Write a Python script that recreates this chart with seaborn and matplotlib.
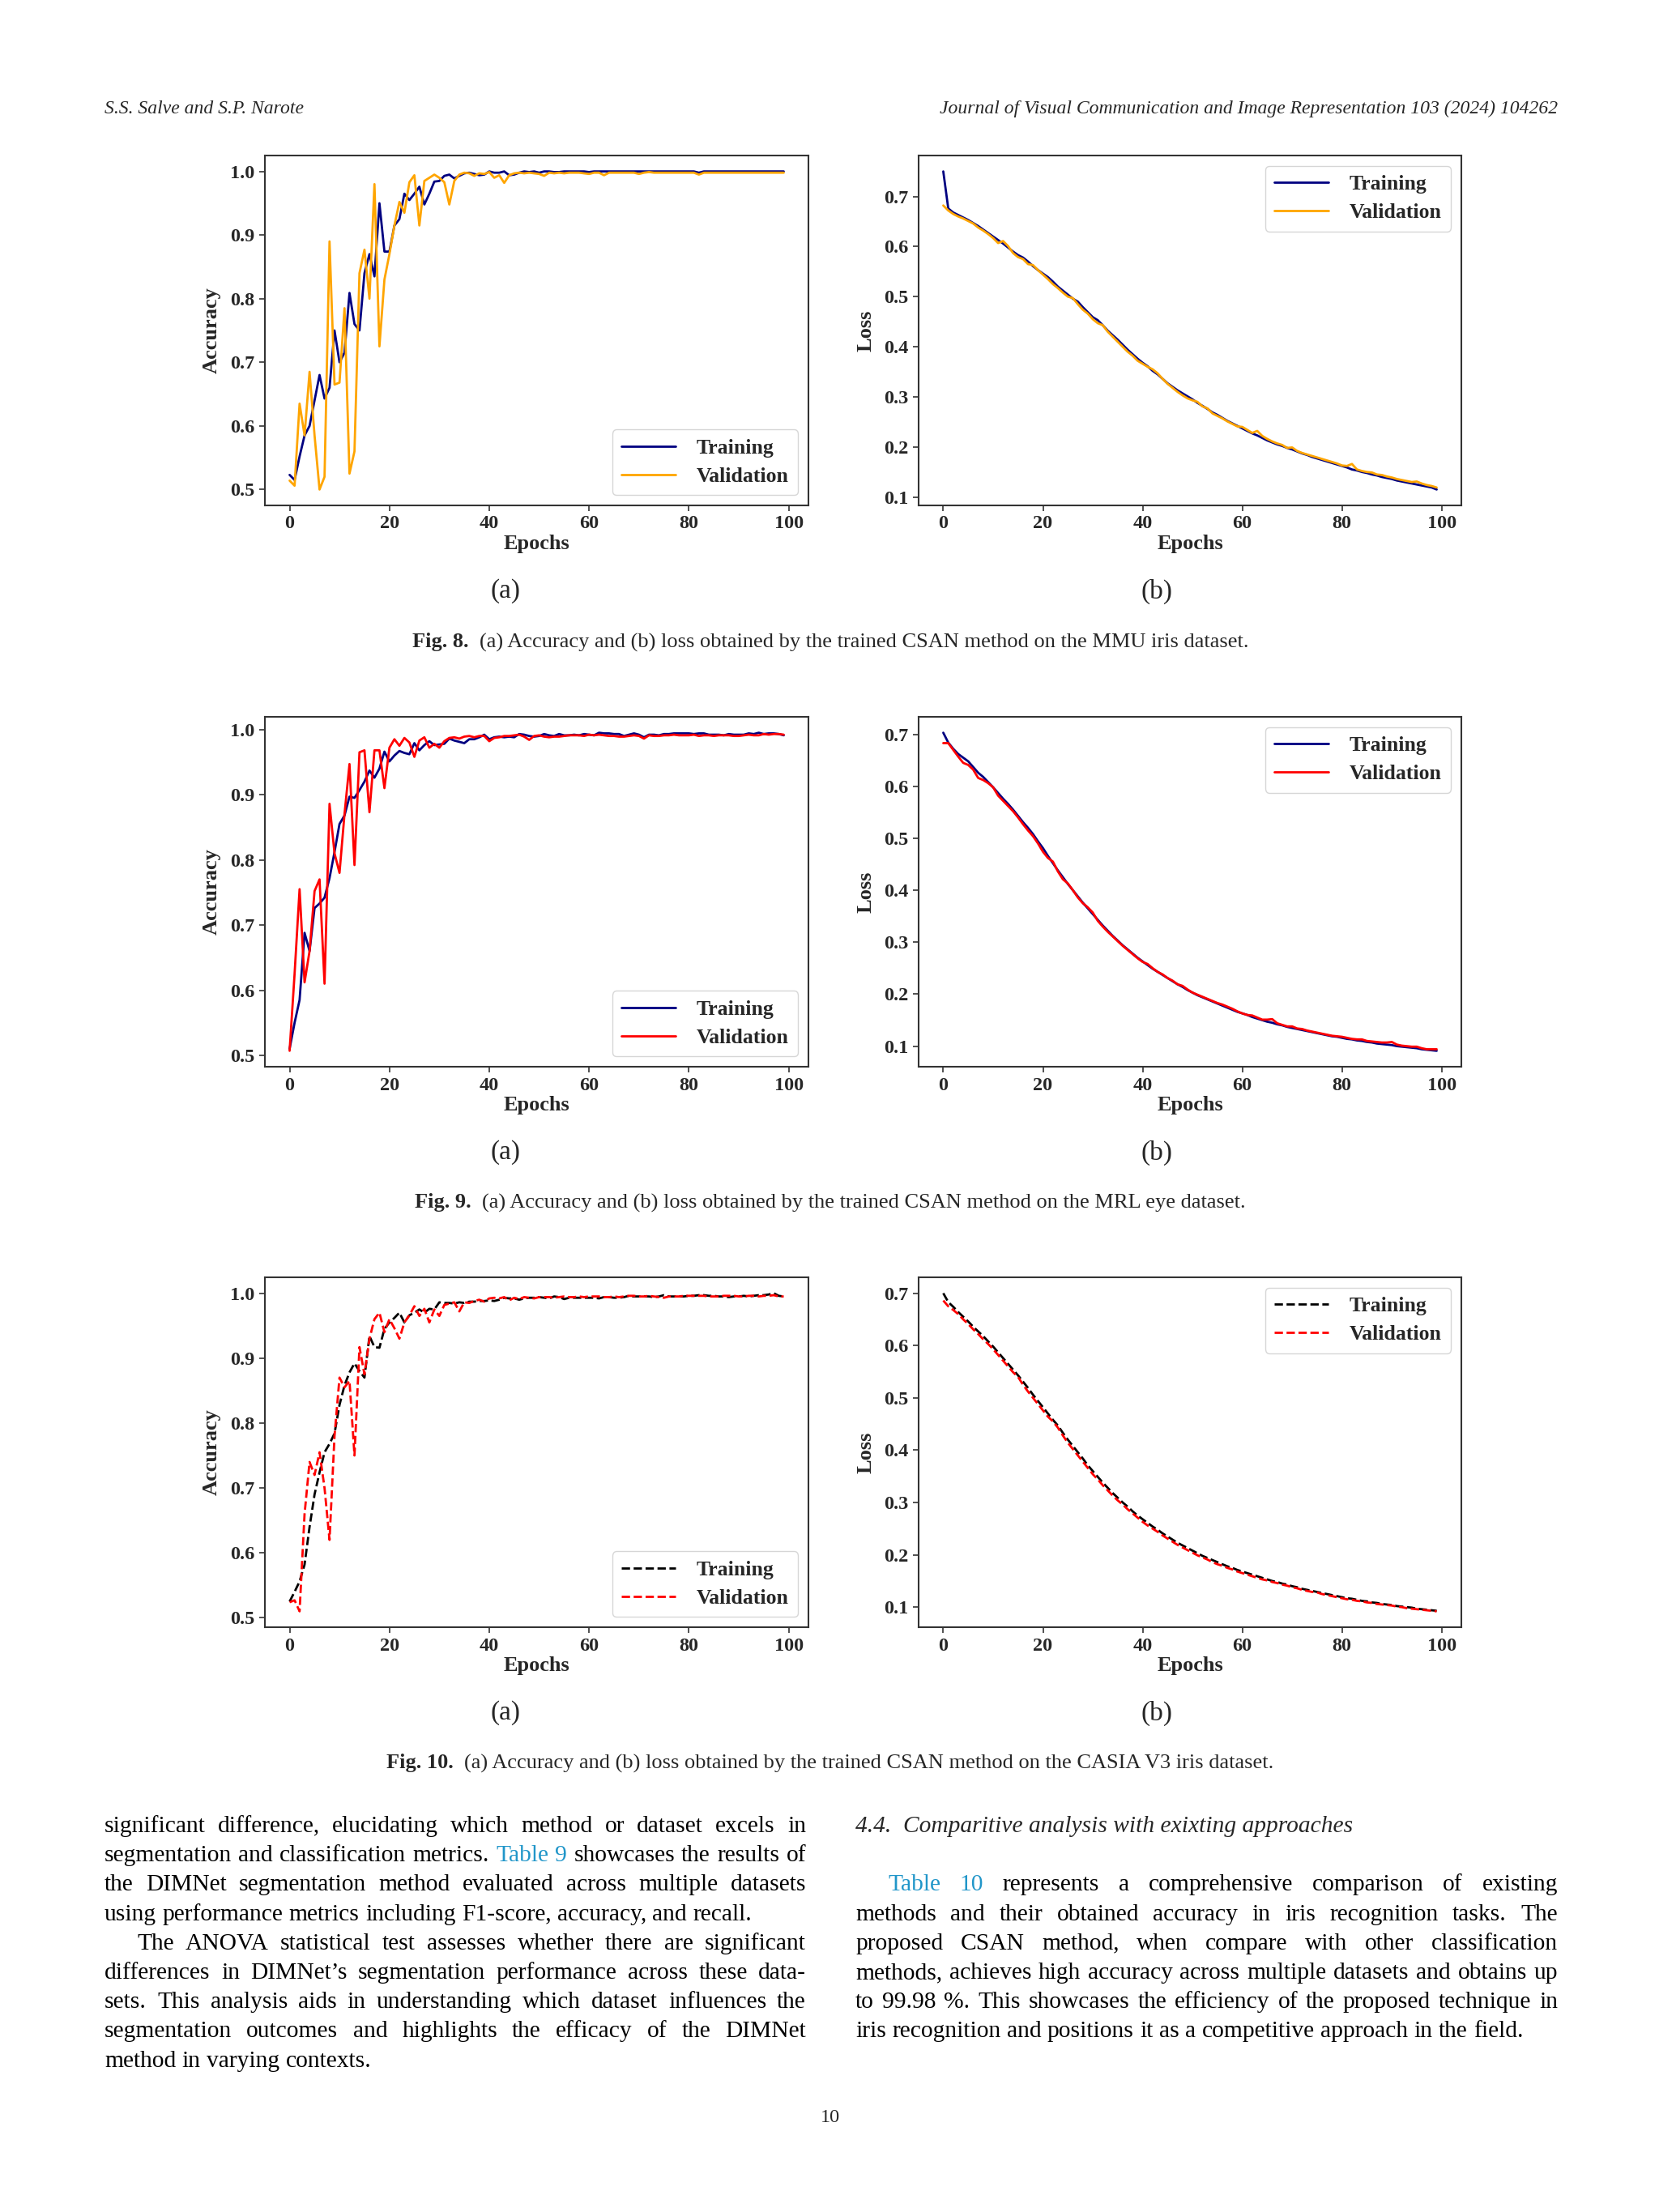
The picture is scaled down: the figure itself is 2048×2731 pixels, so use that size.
import matplotlib
matplotlib.use("Agg")
import matplotlib.pyplot as plt
import seaborn as sns
import pandas as pd

# ---------------- data ----------------
epochs = list(range(100))
xticks = [0, 20, 40, 60, 80, 100]

mmu_acc_train = [0.523,0.515,0.552,0.585,0.600,0.640,0.680,0.643,0.660,0.750,
 0.700,0.715,0.809,0.760,0.750,0.840,0.870,0.835,0.950,0.874,
 0.874,0.915,0.925,0.965,0.955,0.965,0.976,0.948,0.965,0.984,
 0.985,0.993,0.995,0.989,0.993,0.997,0.998,0.996,0.994,0.995,
 1.000,0.998,0.998,1.000,0.994,0.995,0.998,1.000,0.999,1.000,
 0.998,1.000,1.000,0.999,0.999,1.000,1.000,1.000,1.000,1.000,
 0.999,1.000,1.000,1.000,1.000,1.000,1.000,1.000,1.000,1.000,
 1.000,1.000,1.000,1.000,1.000,1.000,1.000,1.000,1.000,1.000,
 1.000,1.000,0.998,1.000,1.000,1.000,1.000,1.000,1.000,1.000,
 1.000,1.000,1.000,1.000,1.000,1.000,1.000,1.000,1.000,1.000]
mmu_acc_val = [0.514,0.506,0.635,0.585,0.685,0.585,0.500,0.520,0.890,0.665,
 0.668,0.785,0.525,0.560,0.840,0.877,0.800,0.980,0.725,0.830,
 0.870,0.915,0.952,0.935,0.983,0.994,0.915,0.985,0.990,0.995,
 0.990,0.983,0.948,0.985,0.995,0.998,0.997,0.993,0.997,0.996,
 0.999,0.990,0.994,0.982,0.994,0.997,0.998,0.997,0.998,0.997,
 0.996,0.993,0.998,0.997,0.998,0.997,0.998,0.998,0.998,0.997,
 0.996,0.998,0.998,0.994,0.998,0.998,0.998,0.998,0.998,0.998,
 0.996,0.998,0.999,0.998,0.998,0.998,0.998,0.998,0.998,0.998,
 0.998,0.998,0.995,0.998,0.998,0.998,0.998,0.998,0.998,0.998,
 0.998,0.998,0.998,0.998,0.998,0.998,0.998,0.998,0.998,0.998]
mmu_loss_train = [0.750,0.676,0.668,0.663,0.658,0.653,0.647,0.641,0.634,0.627,
 0.620,0.613,0.606,0.598,0.590,0.583,0.578,0.570,0.561,0.553,
 0.546,0.539,0.530,0.520,0.512,0.504,0.496,0.490,0.479,0.469,
 0.459,0.453,0.443,0.432,0.423,0.414,0.404,0.394,0.385,0.376,
 0.368,0.361,0.352,0.345,0.336,0.327,0.320,0.313,0.307,0.301,
 0.295,0.288,0.282,0.276,0.269,0.264,0.258,0.252,0.247,0.242,
 0.237,0.232,0.227,0.223,0.218,0.213,0.209,0.205,0.202,0.198,
 0.195,0.191,0.187,0.184,0.180,0.177,0.174,0.171,0.168,0.165,
 0.162,0.159,0.155,0.153,0.150,0.148,0.145,0.143,0.140,0.138,
 0.136,0.133,0.131,0.129,0.127,0.125,0.123,0.121,0.119,0.115]
mmu_loss_val = [0.682,0.672,0.665,0.660,0.656,0.651,0.646,0.638,0.632,0.625,
 0.617,0.607,0.611,0.601,0.587,0.579,0.575,0.565,0.563,0.553,
 0.544,0.535,0.525,0.517,0.508,0.500,0.497,0.485,0.474,0.466,
 0.455,0.447,0.443,0.430,0.420,0.410,0.400,0.390,0.382,0.372,
 0.366,0.360,0.355,0.347,0.336,0.326,0.318,0.310,0.303,0.297,
 0.293,0.290,0.281,0.277,0.267,0.262,0.257,0.251,0.246,0.241,
 0.240,0.234,0.228,0.232,0.222,0.216,0.211,0.207,0.204,0.198,
 0.199,0.192,0.188,0.185,0.182,0.179,0.176,0.173,0.170,0.167,
 0.163,0.162,0.166,0.155,0.152,0.150,0.149,0.145,0.144,0.141,
 0.139,0.136,0.134,0.132,0.130,0.131,0.127,0.124,0.122,0.119]

mrl_acc_train = [0.510,0.550,0.585,0.688,0.660,0.726,0.733,0.742,0.772,0.812,
 0.855,0.868,0.897,0.895,0.907,0.920,0.937,0.926,0.940,0.966,
 0.951,0.960,0.967,0.964,0.962,0.979,0.968,0.976,0.982,0.976,
 0.977,0.978,0.986,0.983,0.981,0.979,0.985,0.985,0.988,0.992,
 0.985,0.988,0.989,0.988,0.989,0.988,0.993,0.992,0.990,0.989,
 0.990,0.993,0.991,0.990,0.993,0.991,0.991,0.992,0.991,0.993,
 0.992,0.991,0.995,0.994,0.994,0.993,0.993,0.990,0.992,0.994,
 0.992,0.988,0.992,0.992,0.991,0.993,0.993,0.994,0.994,0.994,
 0.994,0.993,0.994,0.994,0.992,0.992,0.992,0.991,0.993,0.992,
 0.992,0.992,0.994,0.993,0.995,0.993,0.994,0.994,0.993,0.991]
mrl_acc_val = [0.507,0.625,0.755,0.612,0.660,0.752,0.770,0.610,0.886,0.810,
 0.780,0.870,0.947,0.792,0.965,0.968,0.873,0.968,0.968,0.910,
 0.972,0.985,0.975,0.987,0.980,0.958,0.983,0.988,0.972,0.978,
 0.972,0.982,0.987,0.988,0.986,0.989,0.990,0.988,0.990,0.990,
 0.982,0.987,0.988,0.990,0.990,0.991,0.992,0.989,0.984,0.990,
 0.991,0.989,0.988,0.989,0.989,0.990,0.991,0.991,0.991,0.990,
 0.992,0.991,0.992,0.991,0.990,0.990,0.989,0.989,0.990,0.991,
 0.990,0.986,0.991,0.990,0.990,0.991,0.991,0.992,0.991,0.991,
 0.991,0.992,0.990,0.991,0.991,0.990,0.991,0.991,0.991,0.990,
 0.990,0.991,0.992,0.991,0.991,0.993,0.992,0.993,0.993,0.992]
mrl_loss_train = [0.703,0.684,0.672,0.662,0.655,0.648,0.637,0.626,0.618,0.608,
 0.598,0.587,0.576,0.566,0.555,0.543,0.531,0.520,0.508,0.494,
 0.481,0.466,0.452,0.438,0.425,0.412,0.400,0.388,0.376,0.365,
 0.354,0.343,0.332,0.322,0.312,0.303,0.294,0.286,0.278,0.270,
 0.263,0.256,0.249,0.243,0.237,0.231,0.225,0.219,0.214,0.208,
 0.203,0.198,0.194,0.190,0.186,0.182,0.178,0.174,0.170,0.166,
 0.163,0.160,0.156,0.153,0.150,0.147,0.145,0.142,0.140,0.137,
 0.135,0.133,0.131,0.129,0.127,0.125,0.123,0.121,0.119,0.118,
 0.116,0.114,0.113,0.111,0.110,0.108,0.107,0.105,0.104,0.103,
 0.102,0.100,0.099,0.098,0.097,0.096,0.094,0.093,0.092,0.091]
mrl_loss_val = [0.683,0.683,0.670,0.657,0.645,0.641,0.632,0.616,0.612,0.606,
 0.598,0.582,0.572,0.562,0.552,0.540,0.527,0.515,0.504,0.490,
 0.474,0.462,0.455,0.436,0.421,0.413,0.400,0.386,0.375,0.367,
 0.357,0.341,0.330,0.320,0.311,0.302,0.293,0.285,0.277,0.269,
 0.262,0.258,0.250,0.243,0.238,0.231,0.226,0.219,0.216,0.209,
 0.203,0.199,0.195,0.191,0.187,0.183,0.180,0.176,0.172,0.167,
 0.163,0.160,0.159,0.155,0.151,0.151,0.152,0.144,0.141,0.138,
 0.138,0.134,0.133,0.130,0.128,0.126,0.124,0.122,0.120,0.119,
 0.118,0.116,0.114,0.113,0.113,0.110,0.109,0.108,0.107,0.107,
 0.108,0.103,0.101,0.100,0.099,0.099,0.096,0.094,0.094,0.094]

casia_acc_train = [0.525,0.540,0.556,0.582,0.640,0.690,0.724,0.755,0.768,0.784,
 0.828,0.858,0.878,0.892,0.880,0.870,0.934,0.917,0.916,0.945,
 0.955,0.962,0.970,0.955,0.966,0.970,0.975,0.970,0.976,0.975,
 0.986,0.985,0.985,0.984,0.986,0.985,0.987,0.987,0.988,0.988,
 0.989,0.988,0.990,0.993,0.992,0.992,0.990,0.992,0.993,0.993,
 0.994,0.993,0.992,0.995,0.994,0.991,0.993,0.993,0.993,0.993,
 0.993,0.993,0.992,0.994,0.994,0.993,0.993,0.994,0.996,0.995,
 0.995,0.995,0.995,0.994,0.995,0.997,0.995,0.995,0.995,0.995,
 0.996,0.996,0.997,0.997,0.996,0.996,0.995,0.995,0.994,0.995,
 0.995,0.996,0.995,0.996,0.997,0.997,0.998,1.000,0.996,0.995]
casia_acc_val = [0.524,0.527,0.510,0.660,0.740,0.720,0.755,0.700,0.620,0.780,
 0.870,0.855,0.865,0.750,0.917,0.875,0.930,0.960,0.970,0.940,
 0.960,0.946,0.930,0.955,0.966,0.980,0.965,0.976,0.955,0.975,
 0.965,0.982,0.984,0.986,0.972,0.986,0.985,0.988,0.990,0.987,
 0.992,0.993,0.992,0.994,0.989,0.993,0.991,0.994,0.993,0.992,
 0.994,0.994,0.994,0.993,0.994,0.995,0.994,0.994,0.995,0.994,
 0.995,0.995,0.995,0.994,0.994,0.995,0.994,0.995,0.996,0.996,
 0.995,0.995,0.996,0.995,0.994,0.993,0.995,0.995,0.995,0.996,
 0.996,0.996,0.996,0.996,0.995,0.995,0.995,0.996,0.996,0.996,
 0.995,0.995,0.996,0.996,0.995,0.996,0.996,0.997,0.995,0.995]
casia_loss_train = [0.700,0.683,0.674,0.664,0.655,0.646,0.636,0.627,0.618,0.608,
 0.598,0.587,0.576,0.565,0.554,0.543,0.531,0.519,0.506,0.494,
 0.482,0.470,0.458,0.447,0.433,0.420,0.408,0.396,0.384,0.371,
 0.360,0.349,0.338,0.328,0.318,0.309,0.300,0.292,0.283,0.275,
 0.268,0.261,0.254,0.248,0.241,0.235,0.229,0.223,0.218,0.213,
 0.208,0.203,0.198,0.194,0.190,0.186,0.182,0.178,0.175,0.171,
 0.168,0.165,0.162,0.159,0.156,0.153,0.150,0.148,0.145,0.143,
 0.140,0.138,0.135,0.133,0.131,0.129,0.127,0.125,0.123,0.121,
 0.119,0.117,0.116,0.114,0.112,0.111,0.109,0.108,0.106,0.105,
 0.104,0.102,0.101,0.100,0.099,0.097,0.096,0.095,0.094,0.093]
casia_loss_val = [0.686,0.675,0.668,0.660,0.650,0.641,0.631,0.622,0.612,0.603,
 0.593,0.582,0.571,0.560,0.549,0.540,0.525,0.512,0.500,0.488,
 0.476,0.464,0.455,0.443,0.428,0.414,0.402,0.390,0.378,0.366,
 0.354,0.344,0.333,0.323,0.313,0.304,0.296,0.287,0.279,0.271,
 0.263,0.256,0.250,0.244,0.237,0.231,0.225,0.219,0.214,0.209,
 0.204,0.199,0.195,0.191,0.186,0.182,0.179,0.175,0.172,0.168,
 0.165,0.162,0.159,0.156,0.153,0.151,0.148,0.146,0.143,0.141,
 0.138,0.136,0.133,0.131,0.129,0.128,0.125,0.123,0.121,0.119,
 0.117,0.115,0.114,0.112,0.111,0.109,0.108,0.106,0.105,0.104,
 0.103,0.101,0.100,0.098,0.097,0.096,0.095,0.094,0.093,0.092]

series_labels = ["Training", "Validation"]
captions = [
    ("Fig. 8.", "(a) Accuracy and (b) loss obtained by the trained CSAN method on the MMU iris dataset."),
    ("Fig. 9.", "(a) Accuracy and (b) loss obtained by the trained CSAN method on the MRL eye dataset."),
    ("Fig. 10.", "(a) Accuracy and (b) loss obtained by the trained CSAN method on the CASIA V3 iris dataset."),
]
header_left = "S.S. Salve and S.P. Narote"
header_right = "Journal of Visual Communication and Image Representation 103 (2024) 104262"
left_col = [
    ("significant difference, elucidating which method or dataset excels in", True, False),
    ("segmentation and classification metrics. §Table §9 showcases the results of", True, False),
    ("the DIMNet segmentation method evaluated across multiple datasets", True, False),
    ("using performance metrics including F1-score, accuracy, and recall.", False, False),
    ("The ANOVA statistical test assesses whether there are significant", True, True),
    ("differences in DIMNet\u2019s segmentation performance across these data-", True, False),
    ("sets. This analysis aids in understanding which dataset influences the", True, False),
    ("segmentation outcomes and highlights the efficacy of the DIMNet", True, False),
    ("method in varying contexts.", False, False),
]
right_col = [
    None,
    None,
    ("§Table §10 represents a comprehensive comparison of existing", True, True),
    ("methods and their obtained accuracy in iris recognition tasks. The", True, False),
    ("proposed CSAN method, when compare with other classification", True, False),
    ("methods, achieves high accuracy across multiple datasets and obtains up", True, False),
    ("to 99.98 %. This showcases the efficiency of the proposed technique in", True, False),
    ("iris recognition and positions it as a competitive approach in the field.", False, False),
]
section_heading = "4.4.  Comparitive analysis with exixting approaches"
page_number = "10"

# ---------------- style ----------------
sns.set_style("white")
plt.rcParams['font.family'] = ['Liberation Serif', 'DejaVu Serif']

W, H = 2048, 2731
fig = plt.figure(figsize=(W / 100, H / 100), dpi=100)
renderer = fig.canvas.get_renderer()

NAVY = "#000080"
ORANGE = "#FFA500"
RED = "#FF0000"
BLACK = "#000000"
LINK = "#2196c9"
SPINE = "#333333"


def add_axes_px(left, top, width, height):
    return fig.add_axes([left / W, 1 - (top + height) / H, width / W, height / H])


def panel(ax, train, val, ylabel, ctrain, cval, ls, loc):
    df = pd.DataFrame({"Epochs": epochs, "train": train, "val": val})
    sns.lineplot(data=df, x="Epochs", y="train", ax=ax, color=ctrain, linewidth=2.0,
                 linestyle=ls, label=series_labels[0])
    sns.lineplot(data=df, x="Epochs", y="val", ax=ax, color=cval, linewidth=2.0,
                 linestyle=ls, label=series_labels[1])
    ax.set_xticks(xticks)
    ax.set_xlabel("Epochs", fontsize=19, fontweight="bold", labelpad=2)
    ax.set_ylabel(ylabel, fontsize=19, fontweight="bold", labelpad=8)
    ax.tick_params(axis="both", which="major", direction="out", length=5, width=1.2,
                   color=SPINE, labelsize=17.5, bottom=True, left=True, pad=4)
    for lab in ax.get_xticklabels() + ax.get_yticklabels():
        lab.set_fontweight("bold")
    for sp in ax.spines.values():
        sp.set_color(SPINE)
        sp.set_linewidth(1.5)
    leg = ax.legend(loc=loc, prop={"weight": "bold", "size": 18.5}, handlelength=2.6,
                    frameon=True, fancybox=True, framealpha=0.8, edgecolor="#cccccc",
                    borderpad=0.45, labelspacing=0.45, handletextpad=1.0)
    leg.get_frame().set_linewidth(1.0)


tops = [192, 885, 1577]
ph = 432
lefts = [327, 1134]
pw = 671

data_rows = [
    (mmu_acc_train, mmu_acc_val, mmu_loss_train, mmu_loss_val, NAVY, ORANGE, "-"),
    (mrl_acc_train, mrl_acc_val, mrl_loss_train, mrl_loss_val, NAVY, RED, "-"),
    (casia_acc_train, casia_acc_val, casia_loss_train, casia_loss_val, BLACK, RED, "--"),
]

for r, (at, av, lt, lv, ct, cv, ls) in enumerate(data_rows):
    ax_a = add_axes_px(lefts[0], tops[r], pw, ph)
    panel(ax_a, at, av, "Accuracy", ct, cv, ls, "lower right")
    ax_b = add_axes_px(lefts[1], tops[r], pw - 1, ph)
    panel(ax_b, lt, lv, "Loss", ct, cv, ls, "upper right")


# ---------------- page text ----------------
def fx(x):
    return x / W


def fy(y):
    return 1 - y / H


def measure(s, **kw):
    t = fig.text(0, 0, s, **kw)
    w = t.get_window_extent(renderer=renderer).width
    t.remove()
    return w


# sub-panel letters
for r in range(3):
    yl = tops[r] + ph + 106
    fig.text(fx(624), fy(yl), "(a)", fontsize=24, ha="center", va="center")
    fig.text(fx(1428), fy(yl), "(b)", fontsize=24, ha="center", va="center")

# captions
cap_y = [793, 1485, 2177]
cap_fs = 19
for (lead, rest), yc in zip(captions, cap_y):
    w1 = measure(lead, fontsize=cap_fs, fontweight="bold")
    gap = measure("a  a", fontsize=cap_fs) - measure("aa", fontsize=cap_fs)
    w2 = measure(rest, fontsize=cap_fs)
    total = w1 + gap + w2
    x0 = 1025 - total / 2
    fig.text(fx(x0), fy(yc), lead, fontsize=cap_fs, fontweight="bold", va="center")
    fig.text(fx(x0 + w1 + gap), fy(yc), rest, fontsize=cap_fs, va="center")

# header
fig.text(fx(129), fy(134), header_left, fontsize=17, style="italic", va="center")
fig.text(fx(1923), fy(134), header_right, fontsize=17, style="italic", va="center", ha="right")

# body font size: as large as possible so that every justified line still fits
col_w = 1923 - 1056
ratios = []
for item in left_col + right_col:
    if item is None:
        continue
    txt, just, ind = item
    plain = txt.replace("§", "")
    w = measure(plain, fontsize=20) + (40 if ind else 0)
    ratios.append(col_w / w)
BODY_FS = min(22.0, 20 * min(ratios) * 0.99)


def draw_line(text, x0, x1, yb, justify, indent):
    words = text.split(" ")
    toks = []
    for wd in words:
        if wd.startswith("§"):
            toks.append((wd[1:], LINK))
        else:
            toks.append((wd, "black"))
    widths = [measure(t, fontsize=BODY_FS) for t, _ in toks]
    start = x0 + (40 if indent else 0)
    space = measure("a a", fontsize=BODY_FS) - measure("aa", fontsize=BODY_FS)
    if justify and len(toks) > 1:
        gap = (x1 - start - sum(widths)) / (len(toks) - 1)
    else:
        gap = space
    x = start
    for (t, c), w in zip(toks, widths):
        fig.text(fx(x), fy(yb), t, fontsize=BODY_FS, color=c, va="baseline")
        x += w + gap


line_y0 = 2262
line_dy = 36.2
for i, item in enumerate(left_col):
    txt, just, ind = item
    draw_line(txt, 129, 995, line_y0 + i * line_dy, just, ind)

fig.text(fx(1056), fy(line_y0), section_heading, fontsize=BODY_FS, style="italic", va="baseline")
for i, item in enumerate(right_col):
    if item is None:
        continue
    txt, just, ind = item
    draw_line(txt, 1056, 1923, line_y0 + i * line_dy, just, ind)

fig.text(fx(1025), fy(2615), page_number, fontsize=17.5, ha="center", va="center")

fig.savefig("out.png", dpi=100)
